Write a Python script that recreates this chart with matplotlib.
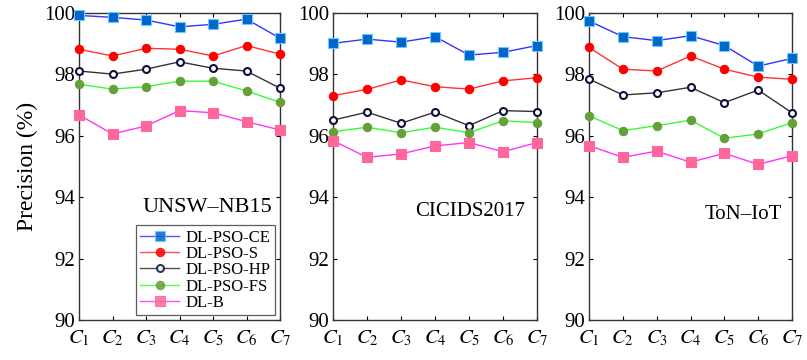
import matplotlib
matplotlib.use('Agg')
import matplotlib.pyplot as plt
import numpy as np

plt.rcParams.update({
    "font.family": "serif",
    "font.serif": ["Liberation Serif", "DejaVu Serif"],
    "mathtext.fontset": "stix",
})

cases = ['$C_1$', '$C_2$', '$C_3$', '$C_4$', '$C_5$', '$C_6$', '$C_7$']
datasets = ['UNSW\u2013NB15', 'CICIDS2017', 'ToN\u2013IoT']
methods = ['DL-PSO-CE', 'DL-PSO-S', 'DL-PSO-HP', 'DL-PSO-FS', 'DL-B']

# precision values per dataset (rows follow methods)
unsw_nb15 = [
    [99.92, 99.86, 99.77, 99.55, 99.63, 99.80, 99.18],
    [98.82, 98.60, 98.85, 98.82, 98.60, 98.94, 98.66],
    [98.11, 98.01, 98.17, 98.41, 98.20, 98.11, 97.55],
    [97.68, 97.52, 97.60, 97.78, 97.78, 97.46, 97.09],
    [96.68, 96.06, 96.32, 96.82, 96.75, 96.46, 96.19],
]
cicids2017 = [
    [99.01, 99.15, 99.05, 99.23, 98.63, 98.72, 98.94],
    [97.31, 97.51, 97.82, 97.60, 97.52, 97.79, 97.89],
    [96.51, 96.77, 96.41, 96.77, 96.33, 96.82, 96.79],
    [96.13, 96.28, 96.10, 96.28, 96.10, 96.49, 96.43],
    [95.84, 95.30, 95.41, 95.67, 95.78, 95.48, 95.78],
]
ton_iot = [
    [99.74, 99.23, 99.10, 99.26, 98.94, 98.27, 98.52],
    [98.88, 98.17, 98.11, 98.60, 98.17, 97.91, 97.84],
    [97.85, 97.33, 97.40, 97.58, 97.08, 97.49, 96.75],
    [96.65, 96.17, 96.33, 96.51, 95.92, 96.06, 96.43],
    [95.68, 95.30, 95.50, 95.14, 95.43, 95.07, 95.35],
]
all_data = [unsw_nb15, cicids2017, ton_iot]

# line colour, marker, marker face, marker edge, marker size
styles = [
    ('#3333ff', 's', '#0066cc', '#66ccff', 6.5),
    ('#ff3333', 'o', '#ff0000', '#ff0000', 6),
    ('#333333', 'o', 'white', '#10103a', 5),
    ('#33ff33', 'o', '#66a03a', '#66a03a', 6),
    ('#ff33ff', 's', '#ff6699', '#ff6699', 6.5),
]

fig = plt.figure(figsize=(8.07, 3.6), dpi=100)
lefts = [79, 333, 589]
widths = [201, 204, 203]
x = np.arange(1, len(cases) + 1)

axes = []
for i, data in enumerate(all_data):
    ax = fig.add_axes([lefts[i] / 807, 40 / 360, widths[i] / 807, 307 / 360])
    for j, vals in enumerate(data):
        lc, mk, fc, ec, ms = styles[j]
        ax.plot(x, vals, color=lc, lw=1.0, marker=mk, ms=ms, mfc=fc, mec=ec,
                mew=1.5 if j == 2 else 0.8, clip_on=False, zorder=3,
                label=methods[j])
    ax.set_xlim(1, 7)
    ax.set_ylim(90, 100)
    ax.set_xticks(x)
    ax.set_xticklabels(cases, fontsize=17)
    ax.set_yticks([90, 92, 94, 96, 98, 100])
    ax.tick_params(direction='in', top=True, right=True, length=3, width=0.8,
                   labelsize=15, pad=3)
    ax.tick_params(axis='x', pad=6)
    for s in ax.spines.values():
        s.set_color('#333333')
        s.set_linewidth(1.0)
    axes.append(ax)

axes[0].set_ylabel('Precision (%)', fontsize=17, labelpad=4)

axes[0].text(0.96, 0.365, datasets[0], transform=axes[0].transAxes,
             ha='right', va='center', fontsize=16)
axes[1].text(0.94, 0.355, datasets[1], transform=axes[1].transAxes,
             ha='right', va='center', fontsize=15)
axes[2].text(0.95, 0.345, datasets[2], transform=axes[2].transAxes,
             ha='right', va='center', fontsize=15)

leg = axes[0].legend(loc='lower right', bbox_to_anchor=(0.99, 0.005),
                     fontsize=12, frameon=True, fancybox=False,
                     borderpad=0.25, labelspacing=0.02, handlelength=2.3,
                     handletextpad=0.4, borderaxespad=0.2)
leg.get_frame().set_edgecolor('#333333')
leg.get_frame().set_linewidth(0.9)
for h in leg.get_lines():
    h.set_alpha(0.85)

plt.savefig('out.png', dpi=100)
